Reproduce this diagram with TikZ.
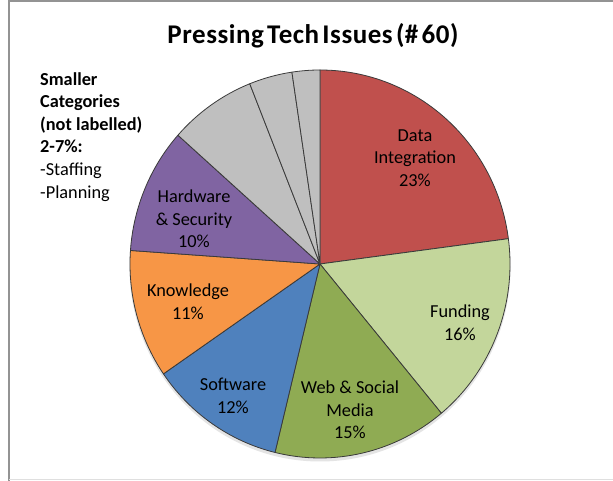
\documentclass[tikz,border=0pt]{standalone}
\usepackage{fontspec}
\setmainfont{Carlito}
\definecolor{cRed}{HTML}{C0504D}
\definecolor{cLGreen}{HTML}{C3D69B}
\definecolor{cOlive}{HTML}{8FAB53}
\definecolor{cBlue}{HTML}{4F81BD}
\definecolor{cOrange}{HTML}{F79646}
\definecolor{cPurple}{HTML}{8064A2}
\definecolor{cGray}{HTML}{BFBFBF}
\definecolor{cEdge}{HTML}{3A3A3A}
\tikzset{
  lbl/.style={align=center,inner sep=0pt,font=\fontsize{18.3}{22.6}\selectfont,text=black},
  slice/.style={draw=cEdge,line width=0.8pt,line join=round}
}
\newcommand{\pieslice}[3]{%
  \filldraw[slice,fill=#3] (320,217) -- ++({190*cos(#1)},{194*sin(#1)})
    arc[start angle=#1,end angle=#2,x radius=190,y radius=194] -- cycle;}
\begin{document}
\begin{tikzpicture}[x=1pt,y=1pt]
\useasboundingbox (0,0) rectangle (613,481);
\fill[white] (0,0) rectangle (613,481);
% frame
\draw[line width=2.5pt,draw=gray!85] (9,0) -- (9,479.8) -- (613,479.8);
\draw[line width=1pt,draw=gray!25] (9,1.5) -- (613,1.5);
% shadow
\fill[gray!35,opacity=0.6] (320,214) ellipse [x radius=190.5, y radius=194.5];
% slices
\pieslice{90}{7.5}{cRed}
\pieslice{7.5}{-50.3}{cLGreen}
\pieslice{-50.3}{-103.7}{cOlive}
\pieslice{-103.7}{-145.5}{cBlue}
\pieslice{-145.5}{-184}{cOrange}
\pieslice{-184}{-221.6}{cPurple}
\pieslice{-221.6}{-248.3}{cGray}
\pieslice{-248.3}{-261.5}{cGray}
\pieslice{-261.5}{-270}{cGray}
% title
\node[inner sep=0pt,font=\fontsize{27}{30}\selectfont\bfseries\addfontfeature{LetterSpace=2}] (title) at (313,445) {\spaceskip=0.12em Pressing Tech Issues (\# 60)};
% labels
\node[lbl] (data) at (415,323) {Data\\Integration\\23\%};
\node[lbl] (fund) at (460,158) {Funding\\16\%};
\node[lbl] (web) at (350,71) {Web \& Social\\Media\\15\%};
\node[lbl] (soft) at (233,85) {Software\\12\%};
\node[lbl] (know) at (188,179) {Knowledge\\11\%};
\node[lbl] (hard) at (194,262) {Hardware\\\& Security\\10\%};
\node[lbl,align=left,anchor=north west] (note) at (40,409) {\textbf{Smaller}\\\textbf{Categories}\\\textbf{(not labelled)}\\\textbf{2-7\%:}\\-Staffing\\-Planning};
\end{tikzpicture}
\end{document}
